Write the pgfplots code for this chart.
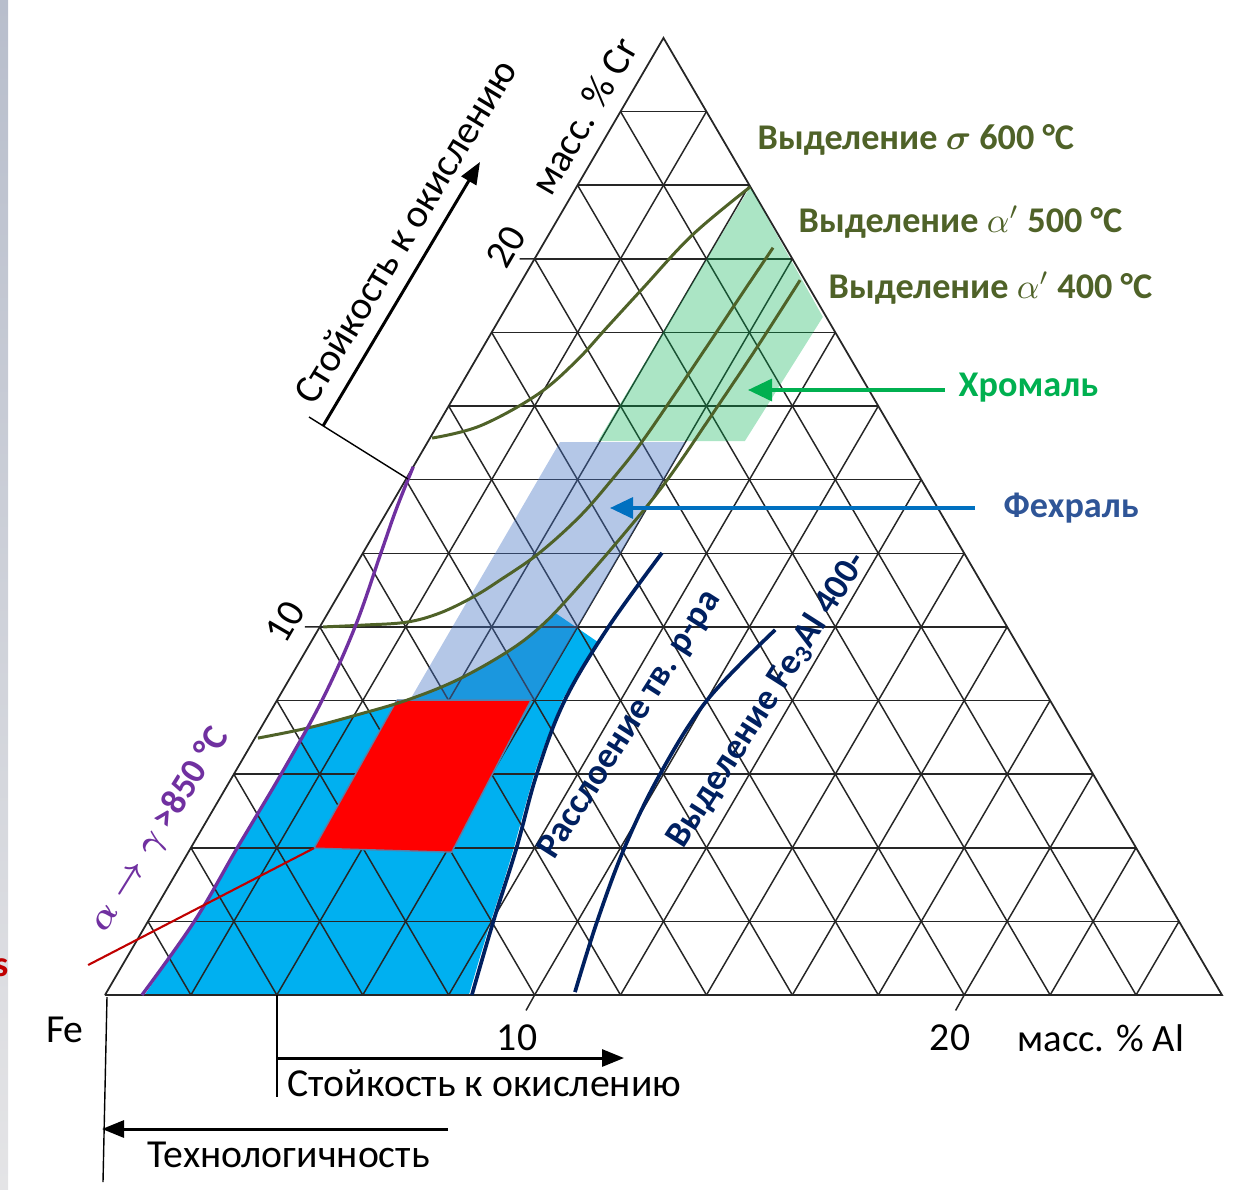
\documentclass[border=0pt]{standalone}
\usepackage{pgfplots}
\usepackage{pgfplotstable}
\pgfplotsset{compat=1.18}
\usepackage{fontspec}
\setmainfont{Carlito}
\usetikzlibrary{arrows.meta}
\definecolor{cyanc}{HTML}{00B0F0}
\definecolor{bandblue}{HTML}{4472C4}
\definecolor{chromgreen}{HTML}{00B050}
\definecolor{olivec}{HTML}{4F6228}
\definecolor{purplec}{HTML}{7030A0}
\definecolor{navyc}{HTML}{002060}
\definecolor{fechtext}{HTML}{2F5597}
\definecolor{fecharrow}{HTML}{0070C0}
\definecolor{darkredc}{HTML}{C00000}
\definecolor{outlinec}{HTML}{5A7FA8}
\definecolor{stripTop}{HTML}{B8BECC}
\definecolor{stripBot}{HTML}{E4E4E6}
\pgfplotsset{table/tern/.style={x expr=\thisrow{al}+0.5*\thisrow{cr}, y expr=\thisrow{cr}}}

% compositions: al = mass % Al, cr = mass % Cr
\pgfplotstableread{
al cr
0.86 0
1.08 2
1.08 4
1.10 6
1.05 8
0.82 10
0.42 12
0.18 13.2
0 14.35
}\tPurple
\pgfplotstableread{
al cr
0.92 0
1.10 2
1.10 4
1.12 6
1.10 7.25
2.06 7.61
3.02 8.01
3.92 8.56
4.70 9.32
5.13 10.0
5.29 10.38
6.66 9.60
6.63 8.8
6.64 8.0
6.80 7.0
6.99 6.0
7.25 5.0
7.52 4.0
7.76 3.0
7.98 2.0
8.22 1.0
8.47 0
}\tCyan
\pgfplotstableread{
al cr
3.09 8.01
6.00 8.01
6.00 15.02
3.08 15.02
}\tBand
\pgfplotstableread{
al cr
3.95 15.05
4.04 21.95
7.50 18.42
7.37 15.05
}\tChrom
\pgfplotstableread{
al cr
2.79 8.01
5.91 8.01
6.13 3.88
2.87 3.99
2.79 8.01
}\tRed
\pgfplotstableread{
al cr
0.05 15.13
1.00 15.46
1.90 16.30
2.35 17.20
2.62 18.15
2.92 19.20
3.35 20.65
4.04 21.95
}\tSigma
\pgfplotstableread{
al cr
0.08 10.0
1.00 10.05
1.96 10.13
2.61 10.38
3.16 10.81
3.56 11.27
4.10 12.0
4.55 13.0
4.80 14.0
4.98 15.0
5.10 16.3
5.20 17.6
5.30 19.0
5.40 20.3
}\tAlphaFive
\pgfplotstableread{
al cr
0.07 6.98
1.08 7.25
2.06 7.61
3.02 8.01
3.92 8.56
4.70 9.32
5.13 10.0
5.43 10.92
5.84 12.63
6.09 13.99
6.25 15.81
6.38 17.60
6.47 19.42
}\tAlphaFour
\pgfplotstableread{
al cr
8.54 0
8.04 2
7.58 4
7.05 6
6.70 8
6.72 10
6.96 12.01
}\tNavyA
\pgfplotstableread{
al cr
10.90 0.08
10.46 1.98
10.09 4.02
9.92 6.0
10.01 8.01
10.64 9.92
}\tNavyB
\pgfplotstableread{
al cr
2.87 3.99
-0.80 0.815
}\tRedLine

\begin{document}
\begin{tikzpicture}
\begin{axis}[width=12.33cm,height=11.89cm,scale only axis,
  xmin=-2.444,xmax=26.257,ymin=-5.270,ymax=27.031,
  axis lines=none, clip=false]
% regions
\addplot[draw=none, fill=cyanc] table[tern]{\tCyan};
% grid
\addplot[black!85, line width=0.42pt, unbounded coords=jump] coordinates {
(1,2)(25,2) (nan,nan) (2,4)(24,4) (nan,nan) (3,6)(23,6) (nan,nan) (4,8)(22,8) (nan,nan)
(5,10)(21,10) (nan,nan) (6,12)(20,12) (nan,nan) (7,14)(19,14) (nan,nan) (8,16)(18,16) (nan,nan)
(9,18)(17,18) (nan,nan) (10,20)(16,20) (nan,nan) (11,22)(15,22) (nan,nan) (12,24)(14,24)};
\addplot[black!85, line width=0.42pt, unbounded coords=jump] coordinates {
(2,0)(14,24) (nan,nan) (4,0)(15,22) (nan,nan) (6,0)(16,20) (nan,nan) (8,0)(17,18) (nan,nan)
(10,0)(18,16) (nan,nan) (12,0)(19,14) (nan,nan) (14,0)(20,12) (nan,nan) (16,0)(21,10) (nan,nan)
(18,0)(22,8) (nan,nan) (20,0)(23,6) (nan,nan) (22,0)(24,4) (nan,nan) (24,0)(25,2)};
\addplot[black!85, line width=0.42pt, unbounded coords=jump] coordinates {
(2,0)(1,2) (nan,nan) (4,0)(2,4) (nan,nan) (6,0)(3,6) (nan,nan) (8,0)(4,8) (nan,nan)
(10,0)(5,10) (nan,nan) (12,0)(6,12) (nan,nan) (14,0)(7,14) (nan,nan) (16,0)(8,16) (nan,nan)
(18,0)(9,18) (nan,nan) (20,0)(10,20) (nan,nan) (22,0)(11,22) (nan,nan) (24,0)(12,24)};
% ticks
\addplot[black!85, line width=0.42pt, unbounded coords=jump] coordinates {
(5,10)(4.65,10) (nan,nan) (10,20)(9.65,20) (nan,nan) (10,0)(9.8,-0.42) (nan,nan) (20,0)(19.8,-0.42)};
% outline
\addplot[black!85, line width=0.5pt] coordinates {(0,0)(26,0)(13,26)(0,0)};
\addplot[draw=none, fill=chromgreen, fill opacity=0.33] table[tern]{\tChrom};
\addplot[draw=none, fill=bandblue, fill opacity=0.4] table[tern]{\tBand};
\addplot[draw=outlinec, line width=0.4pt, fill=red] table[tern]{\tRed};
% curves
\addplot[olivec, line width=0.85pt, smooth, tension=0.6] table[tern]{\tSigma};
\addplot[olivec, line width=0.85pt, smooth, tension=0.6] table[tern]{\tAlphaFive};
\addplot[olivec, line width=0.85pt, smooth, tension=0.6] table[tern]{\tAlphaFour};
\addplot[purplec, line width=0.95pt, smooth, tension=0.6] table[tern]{\tPurple};
\addplot[navyc, line width=1.05pt, smooth, tension=0.6] table[tern]{\tNavyA};
\addplot[navyc, line width=1.05pt, smooth, tension=0.6] table[tern]{\tNavyB};
\addplot[darkredc, line width=0.6pt] table[tern]{\tRedLine};
\end{axis}
\begin{scope}[x=0.1mm,y=-0.1mm,shift={(0,11.89cm)},
  every node/.style={inner sep=0pt, font=\fontsize{11.3}{13}\selectfont}]
\shade[top color=stripTop, bottom color=stripBot] (0,0) rectangle (8,1189);
\node at (65,1030) {Fe};
\node at (517,1038) {10};
\node at (950,1038) {20};
\node[anchor=west, font=\fontsize{11}{13}\selectfont] at (1017,1038) {масс. \% Al};
\node[anchor=west] at (287,1083) {Стойкость к окислению};
\node[anchor=west] at (147,1155) {Технологичность};
\node[rotate=59.75] at (584,116) {масс. \% Cr};
\node[rotate=59.75] at (506,247) {20};
\node[rotate=59.75] at (285,622) {10};
\node[rotate=58.8] at (405,231) {Стойкость к окислению};
\draw[line width=0.4pt] (277,995) -- (277,1097);
\draw[line width=0.85pt, -{Triangle[length=2.2mm,width=1.7mm]}] (277,1058) -- (624,1058);
\draw[line width=0.4pt] (107,997) -- (103,1182);
\draw[line width=0.85pt, -{Triangle[length=2.2mm,width=1.7mm]}] (448,1129) -- (102,1129);
\draw[line width=0.4pt] (309,417) -- (408,479);
\draw[line width=0.85pt, -{Triangle[length=2.2mm,width=1.7mm]}] (323,426) -- (480,162);
\draw[chromgreen, line width=0.95pt, -{Triangle[length=2.4mm,width=2.2mm]}] (945,390) -- (748,390);
\draw[fecharrow, line width=0.95pt, -{Triangle[length=2.3mm,width=2.1mm]}] (975,508) -- (610,508);
\begin{scope}[every node/.style={inner sep=0pt, font=\fontsize{10.3}{12}\selectfont\bfseries}]
\node[anchor=west, text=olivec] at (757,140) {Выделение {\boldmath$\sigma$} 600 °C};
\node[anchor=west, text=olivec] at (798,222) {Выделение $\alpha'$ 500 °C};
\node[anchor=west, text=olivec] at (828,288) {Выделение $\alpha'$ 400 °C};
\node[anchor=west, text=chromgreen] at (958,388) {Хромаль};
\node[anchor=west, text=fechtext] at (1003,508) {Фехраль};
\node[rotate=57.5, text=navyc] at (630,725) {Расслоение тв. р-ра};
\node[rotate=57.5, text=navyc] at (767,700) {Выделение Fe\textsubscript{3}Al 400-};
\node[rotate=58, text=purplec] at (160,830) {{\boldmath$\alpha\rightarrow\gamma$} >850 °C};
\node[anchor=east, text=darkredc] at (9,968) {s};
\end{scope}
\end{scope}
\pgfresetboundingbox
\useasboundingbox (0,0) rectangle (12.33cm,11.89cm);
\end{tikzpicture}
\end{document}
